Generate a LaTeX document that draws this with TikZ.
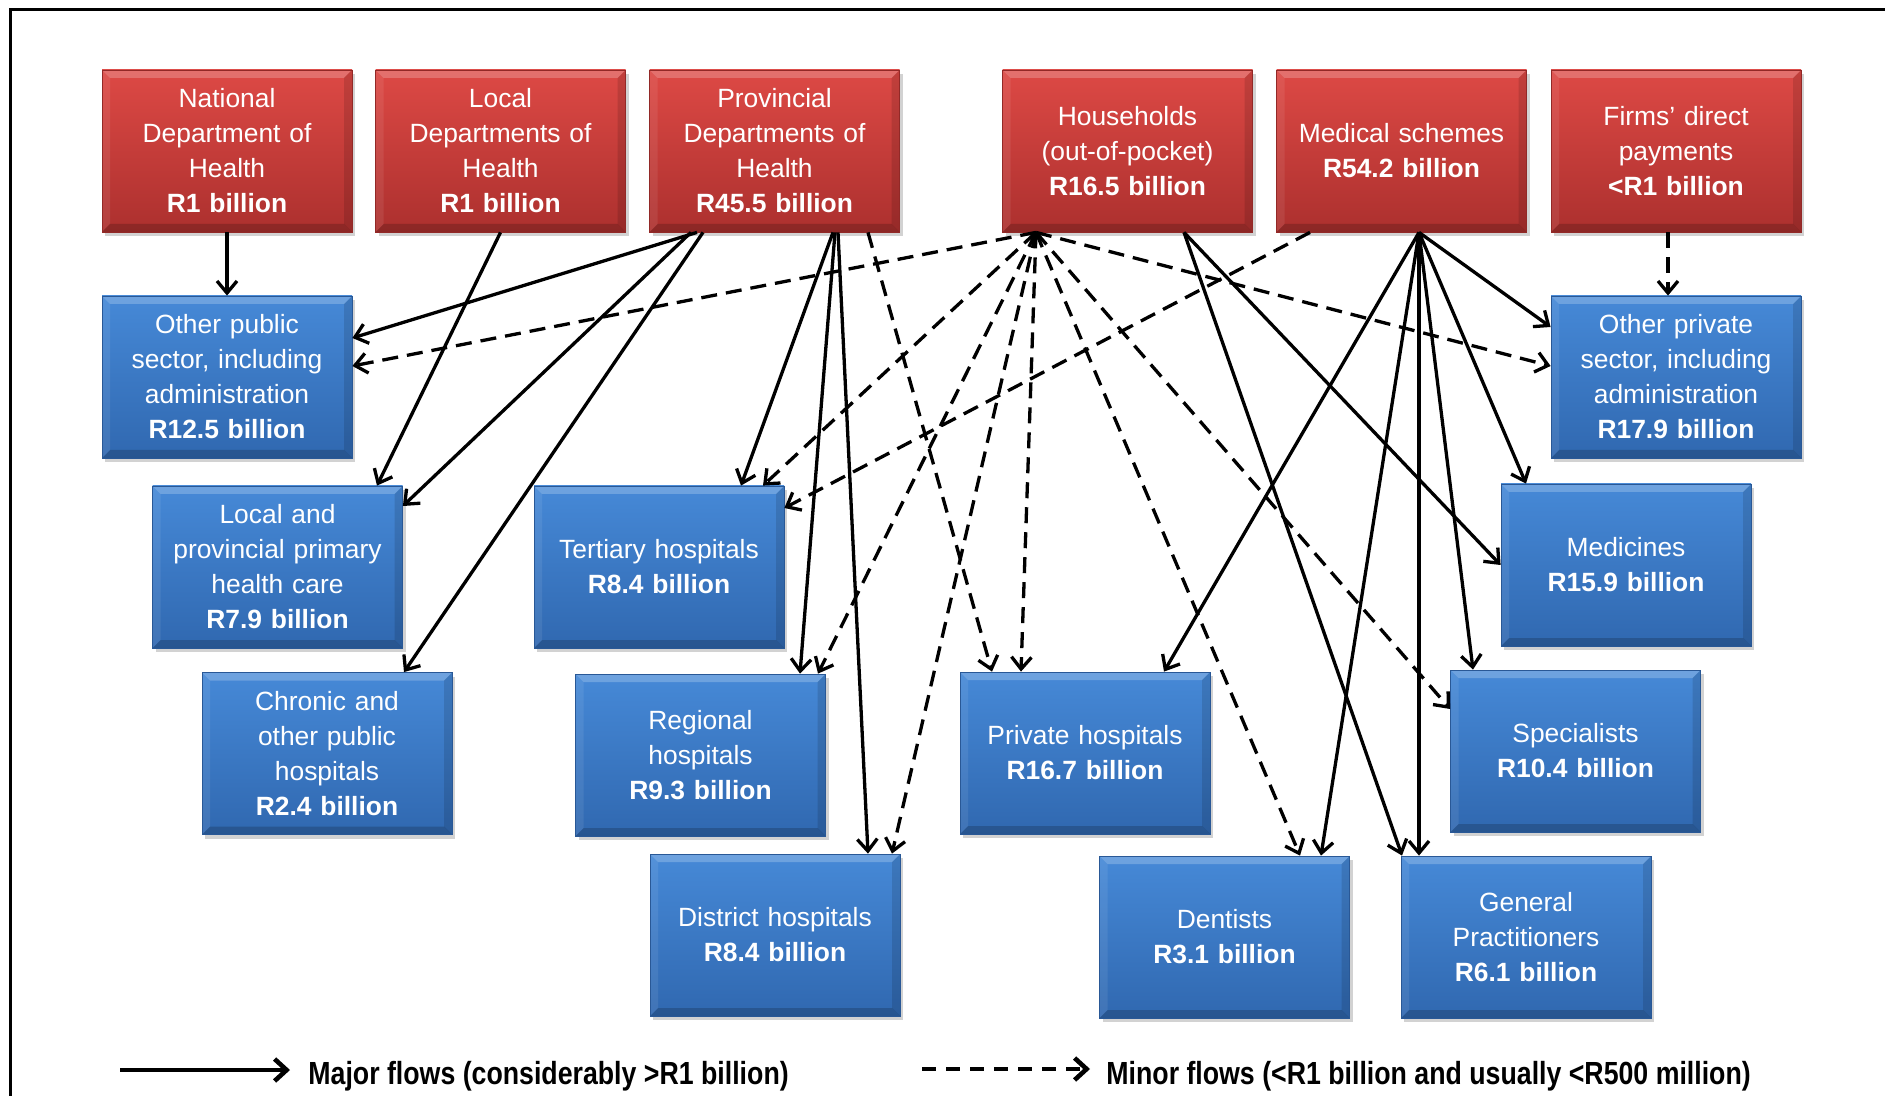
\documentclass[tikz,border=0pt]{standalone}
\usepackage{fontspec}
\setmainfont{Liberation Sans}
\newfontfamily\legendfont[FakeStretch=0.835]{Liberation Sans}
\usetikzlibrary{arrows.meta,shadows,calc}
\definecolor{redtop}{RGB}{221,73,69}
\definecolor{redbot}{RGB}{172,48,46}
\definecolor{bluetop}{RGB}{70,137,215}
\definecolor{bluebot}{RGB}{48,104,176}
\tikzset{
  bev/.style={path picture={
    \path (path picture bounding box.north west) coordinate (bnw)
          (path picture bounding box.south east) coordinate (bse);
    \fill[white,opacity=.22] (bnw) -- (bnw-|bse) -- ([shift={(-4pt,-4pt)}]bnw-|bse) -- ([shift={(4pt,-4pt)}]bnw) -- cycle;
    \fill[black,opacity=.18] (bse) -- (bse-|bnw) -- ([shift={(4pt,4pt)}]bse-|bnw) -- ([shift={(-4pt,4pt)}]bse) -- cycle;
    \fill[white,opacity=.08] (bnw) -- ([shift={(4pt,-4pt)}]bnw) -- ([shift={(4pt,4pt)}]bse-|bnw) -- (bse-|bnw) -- cycle;
    \fill[black,opacity=.12] (bse) -- ([shift={(-4pt,4pt)}]bse) -- ([shift={(-4pt,-4pt)}]bnw-|bse) -- (bnw-|bse) -- cycle;
  }},
  box/.style={minimum width=125pt, minimum height=81pt, inner sep=2pt,
    text width=120pt, align=center, text=white,
    font={\fontsize{13.2}{17.5}\selectfont},
    drop shadow={shadow xshift=1.5pt,shadow yshift=-2pt,opacity=.35}, bev},
  redbox/.style={box, top color=redtop, bottom color=redbot, draw=redbot!85!black, line width=0.4pt},
  bluebox/.style={box, top color=bluetop, bottom color=bluebot, draw=bluebot!85!black, line width=0.4pt},
  flow/.style={line width=1.65pt, -{Straight Barb[length=6pt,width=10pt]}},
  minor/.style={flow, dash pattern=on 8pt off 4.5pt},
  legflow/.style={line width=2.3pt, -{Straight Barb[length=6pt,width=11pt]}},
  legminor/.style={legflow, dash pattern=on 7pt off 5pt},
  legtext/.style={anchor=west, inner sep=0pt, font={\legendfont\bfseries\fontsize{16}{19}\selectfont}}
}
\begin{document}
\begin{tikzpicture}[x=0.5pt,y=-0.5pt]
\useasboundingbox (0,0) rectangle (1885,1096);
\fill[white] (0,0) rectangle (1885,1096);
\draw[line width=1.5pt] (10,1096) -- (10,10) -- (1885,10);

% sources
\node[redbox] (nat)  at (227,151)  {National\\Department of\\Health\\\textbf{R1 billion}};
\node[redbox] (loc)  at (500.5,151) {Local\\Departments of\\Health\\\textbf{R1 billion}};
\node[redbox] (prov) at (774.5,151) {Provincial\\Departments of\\Health\\\textbf{R45.5 billion}};
\node[redbox] (hh)   at (1127.5,151) {Households\\(out-of-pocket)\\\textbf{R16.5 billion}};
\node[redbox] (med)  at (1401.5,151) {Medical schemes\\\textbf{R54.2 billion}};
\node[redbox] (firm) at (1676,151) {Firms’ direct\\payments\\\textbf{<R1 billion}};

% uses
\node[bluebox] (opub) at (227,377)   {Other public\\sector, including\\administration\\\textbf{R12.5 billion}};
\node[bluebox] (lpp)  at (277.5,567) {Local and\\provincial primary\\health care\\\textbf{R7.9 billion}};
\node[bluebox] (chr)  at (327,753.5) {Chronic and\\other public\\hospitals\\\textbf{R2.4 billion}};
\node[bluebox] (ter)  at (659,567)   {Tertiary hospitals\\\textbf{R8.4 billion}};
\node[bluebox] (reg)  at (700.5,755) {Regional\\hospitals\\\textbf{R9.3 billion}};
\node[bluebox] (dis)  at (775,935)   {District hospitals\\\textbf{R8.4 billion}};
\node[bluebox] (pvh)  at (1085,753)  {Private hospitals\\\textbf{R16.7 billion}};
\node[bluebox] (den)  at (1224.5,937) {Dentists\\\textbf{R3.1 billion}};
\node[bluebox] (gp)   at (1526,937)  {General\\Practitioners\\\textbf{R6.1 billion}};
\node[bluebox] (opri) at (1676,377)  {Other private\\sector, including\\administration\\\textbf{R17.9 billion}};
\node[bluebox] (medi) at (1626,565)  {Medicines\\\textbf{R15.9 billion}};
\node[bluebox] (spe)  at (1575.5,751) {Specialists\\\textbf{R10.4 billion}};

% National / Local
\draw[flow] (nat.south) -- (opub.north);
\draw[flow] (loc.south) -- ([xshift=49.75pt]lpp.north);
% Provincial
\draw[flow] ([xshift=-38.75pt]prov.south) -- ([yshift=19.5pt]opub.east);
\draw[flow] ([xshift=-41.75pt]prov.south) -- ([yshift=30.5pt]lpp.east);
\draw[flow] ([xshift=-35.75pt]prov.south) -- ([xshift=38.5pt]chr.north);
\draw[flow] ([xshift=29.25pt]prov.south) -- ([xshift=41pt]ter.north);
\draw[flow] ([xshift=30.25pt]prov.south) -- ([xshift=49.75pt]reg.north);
\draw[flow] ([xshift=31.75pt]prov.south) -- ([xshift=46.5pt]dis.north);
\draw[minor] ([xshift=46.75pt]prov.south) -- ([xshift=-46.5pt]pvh.north);
% Households
\draw[minor] ([xshift=-45.75pt]hh.south) -- ([yshift=5.5pt]opub.east);
\draw[minor] ([xshift=-45.75pt]hh.south) -- ([xshift=52pt]ter.north);
\draw[minor] ([xshift=-45.75pt]hh.south) -- ([xshift=58.75pt]reg.north);
\draw[minor] ([xshift=-45.75pt]hh.south) -- ([xshift=58.5pt]dis.north);
\draw[minor] ([xshift=-45.75pt]hh.south) -- ([xshift=-32pt]pvh.north);
\draw[minor] ([xshift=-45.75pt]hh.south) -- ([xshift=37.75pt]den.north);
\draw[minor] ([xshift=-45.75pt]hh.south) -- ([yshift=21pt]spe.west);
\draw[minor] ([xshift=-45.75pt]hh.south) -- ([yshift=5.5pt]opri.west);
\draw[flow] ([xshift=28.25pt]hh.south) -- (medi.west);
\draw[flow] ([xshift=28.25pt]hh.south) -- ([xshift=-62pt]gp.north);
% Medical schemes
\draw[minor] ([xshift=-45.75pt]med.south) -- ([yshift=29.5pt]ter.east);
\draw[flow] ([xshift=8.75pt]med.south) -- ([xshift=39.5pt]pvh.north);
\draw[flow] ([xshift=8.75pt]med.south) -- ([xshift=48.25pt]den.north);
\draw[flow] ([xshift=8.75pt]med.south) -- ([xshift=-53.5pt]gp.north);
\draw[flow] ([xshift=8.75pt]med.south) -- ([xshift=-51.25pt]spe.north);
\draw[flow] ([xshift=8.75pt]med.south) -- ([xshift=-50pt]medi.north);
\draw[flow] ([xshift=8.75pt]med.south) -- ([yshift=25pt]opri.west);
% Firms
\draw[minor] ([xshift=-4pt]firm.south) -- ([xshift=-4pt]opri.north);

% legend
\coordinate (la) at (120,1070);
\coordinate (lb) at (290,1070);
\draw[legflow] (la) -- (lb);
\node[legtext] (lmaj) at (308,1076) {Major flows (considerably >R1 billion)};
\coordinate (lc) at (922,1069);
\coordinate (ld) at (1090,1069);
\draw[legminor] (lc) -- (ld);
\node[legtext] (lmin) at (1106,1076) {Minor flows (<R1 billion and usually <R500 million)};
\end{tikzpicture}
\end{document}
